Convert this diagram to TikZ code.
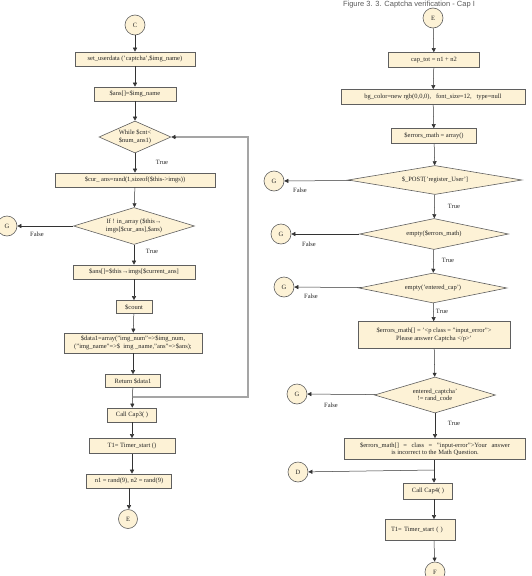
\documentclass[tikz,border=0pt]{standalone}
\usepackage{fontspec}
\setmainfont{Liberation Serif}
\newfontfamily\capfont{Liberation Sans}
\usetikzlibrary{shapes.geometric,arrows.meta}
\definecolor{boxfill}{RGB}{253,242,214}
\definecolor{boxline}{RGB}{95,95,95}
\definecolor{loopgray}{RGB}{165,165,165}
\definecolor{capgray}{RGB}{90,90,90}
\begin{document}
\begin{tikzpicture}[x=1pt,y=-1pt,
  every node/.style={font=\fontsize{6.5}{7.6}\selectfont, text=black!85},
  proc/.style={draw=boxline, fill=boxfill, line width=0.6pt, inner sep=1pt, align=center},
  dec/.style={draw=boxline, fill=boxfill, line width=0.6pt, shape=diamond, inner sep=0pt},
  dtext/.style={inner sep=0pt, align=center},
  conn/.style={draw=boxline, fill=boxfill, line width=0.6pt, circle, inner sep=0pt, minimum size=20pt},
  lbl/.style={inner sep=0pt},
  flow/.style={draw=black!80, line width=0.5pt, -{Triangle[length=4pt,width=4pt]}},
  plain/.style={draw=black!80, line width=0.5pt},
]
\useasboundingbox (0,0) rectangle (532,576);

% ---------- left column ----------
\node[conn] (C) at (135,25) {C};
\node[proc, minimum width=120pt, minimum height=14pt] (su) at (135,59) {set\_userdata ('captcha',\$img\_name)};
\node[proc, minimum width=82pt, minimum height=14pt] (an) at (135,94) {\$ans[]=\$img\_name};
\node[dec, minimum width=72pt, minimum height=32pt] (wh) at (135,137) {};
\node[dtext] (wht) at (wh) {While \$cnt<\\\$num\_ans1)};
\node[lbl] (t1) at (162,162) {True};
\node[proc, minimum width=160pt, minimum height=14pt] (cu) at (135,180) {\$cur\_ ans=rand(1,sizeof(\$this->imgs))};
\node[dec, minimum width=121pt, minimum height=37pt] (if) at (134,226) {};
\node[dtext] (ift) at (if) {If ! in\_array (\$this→\\imgs[\$cur\_ans],\$ans)};
\node[conn] (G1) at (7,226) {G};
\node[lbl] (f1) at (37,234) {False};
\node[lbl] (t2) at (152,251) {True};
\node[proc, minimum width=122pt, minimum height=14pt] (a2) at (134,272) {\$ans[]=\$this→imgs[\$current\_ans]};
\node[proc, minimum width=36pt, minimum height=13pt] (ct) at (134,307) {\$count};
\node[proc, minimum width=138pt, minimum height=20pt] (da) at (133,343) {\$data1=array("img\_num"=>\$img\_num,\\("img\_name"=>\$\ \ img \_name,"ans"=>\$ans);};
\node[proc, minimum width=55pt, minimum height=13pt] (rt) at (133,381) {Return \$data1};
\coordinate (lj) at (133,397);
\coordinate (lr) at (248,397);
\coordinate (lt) at (248,137);
\node[proc, minimum width=49pt, minimum height=14pt] (c3) at (132,415) {Call Cap3( )};
\node[proc, minimum width=86pt, minimum height=15pt] (tm) at (132,446) {T1= Timer\_start ()};
\node[proc, minimum width=85pt, minimum height=14pt] (nr) at (129,481) {n1 = rand(9), n2 = rand(9)};
\node[conn, minimum size=19pt] (E1) at (128,519) {E};

\draw[flow] (C) -- (su);
\draw[flow] (su) -- (an);
\draw[flow] (an) -- (wh);
\draw[flow] (wh) -- (cu);
\draw[flow] (cu) -- (if);
\draw[flow] (if) -- (G1);
\draw[flow] (if) -- (a2);
\draw[flow] (a2) -- (ct);
\draw[flow] (ct) -- (da);
\draw[flow] (da) -- (rt);
\draw[flow] (rt) -- (c3);
\draw[loopgray, line width=1.1pt] (lj) -- (lr) -- (lt) -- ([xshift=4pt]wh.east);
\draw[flow] ([xshift=5pt]wh.east) -- (wh.east);
\draw[flow] (c3) -- (tm);
\draw[flow] (tm.south) -- (tm.south |- nr.north);
\draw[flow] (nr.south) -- (nr.south |- E1.north);

% ---------- right column ----------
\node[font=\capfont\fontsize{7.5}{9}\selectfont, text=capgray, anchor=north, inner sep=0pt] (cap) at (409,0.5) {Figure 3. 3. Captcha verification - Cap I};
\node[conn] (E2) at (433,18) {E};
\node[proc, minimum width=91pt, minimum height=15pt] (tot) at (434,60) {cap\_tot = n1 + n2};
\node[proc, minimum width=184pt, minimum height=15pt] (bg) at (433,97) {bg\_color=new rgb(0,0,0),\ \ \ font\_size=12,\ \ \ type=null};
\node[proc, minimum width=85pt, minimum height=15pt] (em) at (434,136) {\$errors\_math = array()};
\node[dec, minimum width=174pt, minimum height=29pt] (po) at (435,180) {};
\node[dtext] (pot) at (po) {\$\_POST['register\_User']};
\node[conn] (G2) at (274,181) {G};
\node[lbl] (f2) at (300,190) {False};
\node[lbl] (t3) at (454,206) {True};
\node[dec, minimum width=149pt, minimum height=31pt] (ee) at (434,234) {};
\node[dtext] (eet) at (ee) {empty(\$errors\_math)};
\node[conn] (G3) at (281,234) {G};
\node[lbl] (f3) at (309,244) {False};
\node[lbl] (t4) at (448,260) {True};
\node[dec, minimum width=148pt, minimum height=30pt] (ec) at (433,288) {};
\node[dtext] (ect) at (ec) {empty('entered\_cap')};
\node[conn] (G4) at (284,287) {G};
\node[lbl] (f4) at (311,296) {False};
\node[lbl] (t5) at (442,311) {True};
\node[proc, minimum width=152pt, minimum height=27pt] (pa) at (434,335) {\$errors\_math[] = '<p class = "input\_error">\\Please answer Captcha </p>'};
\node[dec, minimum width=121pt, minimum height=36pt] (rc) at (435,395) {};
\node[dtext] (rct) at (rc) {entered\_captcha'\\!= rand\_code};
\node[conn] (G5) at (297,394) {G};
\node[lbl] (f5) at (331,405) {False};
\node[lbl] (t6) at (454,423) {True};
\node[proc, minimum width=181pt, minimum height=21pt] (in) at (435,449) {\hbox to 150pt{\$errors\_math[] = class = "input-error">Your answer}\\is incorrect to the Math Question.};
\coordinate (rj) at (434,470);
\node[conn] (D) at (298,472) {D};
\node[proc, minimum width=49pt, minimum height=16pt] (c4) at (428,491) {Call Cap4( )};
\node[proc, minimum width=70pt, minimum height=21pt, align=left, text width=58pt] (t7) at (420,530) {T1= Timer\_start ( )};
\node[conn] (F) at (435,572) {F};

\draw[flow] (E2) -- (tot);
\draw[flow] (tot) -- (bg);
\draw[flow] (bg) -- (em);
\draw[flow] (em) -- (po);
\draw[flow] (po) -- (G2);
\draw[flow] (po) -- (ee);
\draw[flow] (ee) -- (G3);
\draw[flow] (ee) -- (ec);
\draw[flow] (ec) -- (G4);
\draw[flow] (ec) -- (pa);
\draw[flow] (pa) -- (rc);
\draw[flow] (rc) -- (G5);
\draw[flow] (rc) -- (in);
\draw[plain] (in.south -| rj) -- (rj);
\draw[flow] (rj) -- (D);
\draw[flow] (rj) -- (rj |- c4.north);
\draw[flow] (c4.south -| rj) -- (rj |- t7.north);
\draw[flow] (t7.south -| rj) -- (F);
\end{tikzpicture}
\end{document}
